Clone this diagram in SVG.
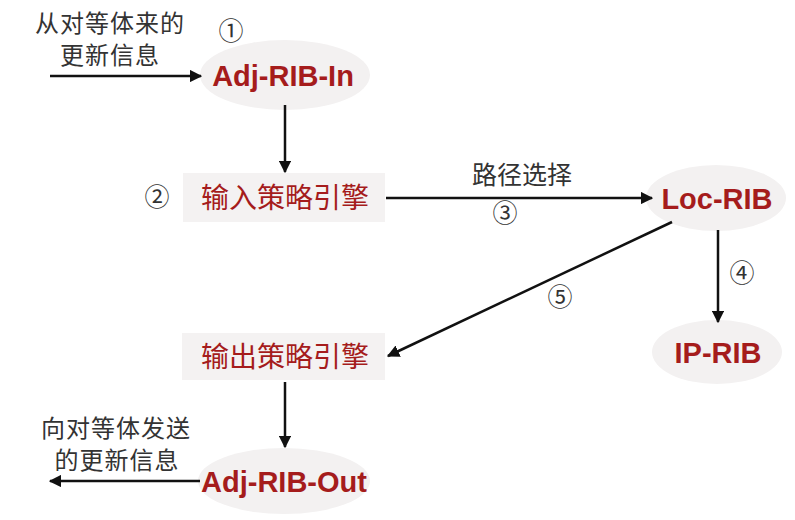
<svg xmlns="http://www.w3.org/2000/svg" width="795" height="520" viewBox="0 0 795 520">
<style>
.ell{fill:#f3f1f1;stroke:none}
.box{fill:#f4f2f2;stroke:none}
.en{font-family:"Liberation Sans",Arial,sans-serif;font-weight:bold;font-size:29px;fill:#a51c1c;text-anchor:middle}
.cn{font-family:"Noto Sans CJK SC",sans-serif;font-size:28px;fill:#a51c1c;text-anchor:middle}
.lb{font-family:"Noto Sans CJK SC",sans-serif;font-size:25px;fill:#333;text-anchor:middle}
.lb2{font-family:"Noto Sans CJK SC",sans-serif;font-size:24px;letter-spacing:1px;fill:#333;text-anchor:middle}
.num{font-family:"Noto Sans CJK SC",sans-serif;font-size:25px;fill:#333;text-anchor:middle}
.ln{stroke:#111;stroke-width:2.5;fill:none;marker-end:url(#ah)}
</style>
<defs>
<marker id="ah" viewBox="0 0 10 10" refX="9" refY="5" markerWidth="5" markerHeight="5" orient="auto" markerUnits="strokeWidth">
<path d="M0,0 L10,5 L0,10 z" fill="#111"/>
</marker>
</defs>
<rect width="795" height="520" fill="#fff"/>
<g id="adj-rib-in">
<ellipse class="ell" cx="285" cy="75" rx="85" ry="35"/>
<text class="en" x="283" y="86">Adj-RIB-In</text>
</g>
<g id="input-policy">
<rect class="box" x="183" y="173" width="202" height="49"/>
<text class="cn" x="285" y="208">输入策略引擎</text>
</g>
<g id="loc-rib">
<ellipse class="ell" cx="716" cy="198" rx="70" ry="33"/>
<text class="en" x="717" y="209">Loc-RIB</text>
</g>
<g id="ip-rib">
<ellipse class="ell" cx="717" cy="352" rx="65" ry="32"/>
<text class="en" x="718" y="363">IP-RIB</text>
</g>
<g id="output-policy">
<rect class="box" x="182" y="333" width="203" height="47"/>
<text class="cn" x="285" y="367">输出策略引擎</text>
</g>
<g id="adj-rib-out">
<ellipse class="ell" cx="284" cy="481" rx="86" ry="33"/>
<text class="en" x="284" y="492">Adj-RIB-Out</text>
</g>
<g id="connectors">
<line class="ln" x1="50" y1="76" x2="201" y2="76"/>
<line class="ln" x1="285" y1="105" x2="285" y2="172"/>
<line class="ln" x1="386" y1="198" x2="652" y2="198"/>
<line class="ln" x1="718" y1="230" x2="718" y2="322"/>
<line class="ln" x1="672" y1="222" x2="388" y2="356"/>
<line class="ln" x1="285" y1="382" x2="285" y2="447"/>
<line class="ln" x1="200" y1="481" x2="50" y2="481"/>
</g>
<g id="labels">
<text class="lb2" x="110" y="32">从对等体来的</text>
<text class="lb2" x="110" y="64">更新信息</text>
<text class="num" x="231" y="40">①</text>
<text class="num" x="157" y="206">②</text>
<text class="lb" x="522" y="184">路径选择</text>
<text class="num" x="505" y="222">③</text>
<text class="num" x="742" y="282">④</text>
<text class="num" x="560" y="306">⑤</text>
<text class="lb2" x="116" y="437">向对等体发送</text>
<text class="lb2" x="117" y="469">的更新信息</text>
</g>
</svg>
